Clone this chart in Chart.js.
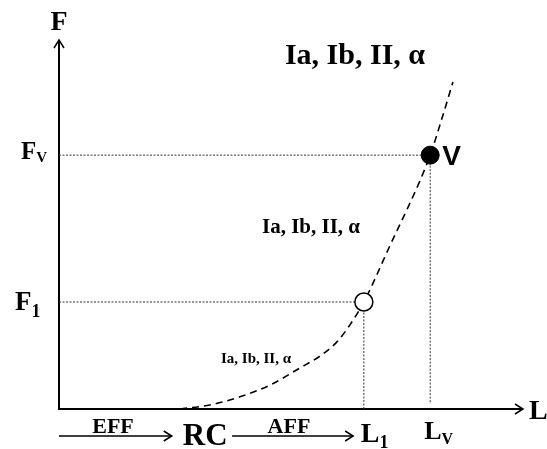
<!DOCTYPE html>
<html>
<head>
<meta charset="utf-8">
<script src="https://cdn.jsdelivr.net/npm/chart.js@4/dist/chart.umd.min.js"></script>
<style>
  body { margin: 0; background: #fff; }
</style>
</head>
<body>
<canvas id="chart" width="547" height="449"></canvas>
<script>
// ---------------------------
//  Datos del gráfico F - L
// ---------------------------
const curveL = [26.1, 32.5, 39.0, 45.5, 51.9, 56.3, 59.9, 62.7, 65.7, 70.9, 80.0, 82.1, 84.9];
const curveF = [0, 1.1, 3.3, 6.5, 11.1, 14.4, 18.2, 22.8, 29.0, 43.1, 68.8, 77.0, 88.6];

const L1 = 65.7, LV = 80.0, RC = 31.5;
const F1 = 29.0, FV = 68.8;

const fibreLabel = 'Ia, Ib, II, α';
const bottomLabels = ['EFF', 'RC', 'AFF'];

const curveData = curveL.map((x, i) => ({ x, y: curveF[i] }));

// líneas de referencia punteadas
const refLine = pts => ({
  type: 'line',
  data: pts,
  borderColor: '#333',
  borderWidth: 1,
  borderDash: [2, 1.5],
  pointRadius: 0,
  fill: false,
  order: 3
});

const serif = 'bold {s}px "Liberation Serif", "Times New Roman", serif';
const font = s => serif.replace('{s}', s);

function arrowHead(ctx, x, y, dir) {
  // dir: 'up' o 'right'
  ctx.beginPath();
  if (dir === 'up') {
    ctx.moveTo(x - 5, y + 8); ctx.lineTo(x, y); ctx.lineTo(x + 5, y + 8);
  } else {
    ctx.moveTo(x - 8, y - 5); ctx.lineTo(x, y); ctx.lineTo(x - 8, y + 5);
  }
  ctx.stroke();
}

function subText(ctx, main, sub, x, base, size, subSize, drop) {
  ctx.textAlign = 'left';
  ctx.textBaseline = 'alphabetic';
  ctx.font = font(size);
  ctx.fillText(main, x, base);
  const w = ctx.measureText(main).width;
  ctx.font = font(subSize);
  ctx.fillText(sub, x + w, base + drop);
}

const axesPlugin = {
  id: 'axes',
  beforeDatasetsDraw(chart) {
    const { ctx, chartArea: a } = chart;
    ctx.save();
    ctx.strokeStyle = '#000';
    ctx.lineWidth = 2;
    ctx.beginPath();
    ctx.moveTo(a.left, a.top);
    ctx.lineTo(a.left, a.bottom);
    ctx.lineTo(a.right, a.bottom);
    ctx.stroke();
    ctx.lineWidth = 1.5;
    arrowHead(ctx, a.left, a.top, 'up');
    arrowHead(ctx, a.right, a.bottom, 'right');
    ctx.restore();
  },
  afterDraw(chart) {
    const { ctx, chartArea: a, scales: { x, y } } = chart;
    ctx.save();
    ctx.fillStyle = '#000';
    ctx.strokeStyle = '#000';

    // títulos de ejes
    ctx.font = font(28);
    ctx.textAlign = 'center';
    ctx.textBaseline = 'alphabetic';
    ctx.fillText('F', a.left, 30);
    ctx.textAlign = 'left';
    ctx.fillText('L', a.right + 6, a.bottom + 10);

    // marcas del eje Y
    subText(ctx, 'F', '1', 15, y.getPixelForValue(F1) + 8, 27, 18, 7);
    subText(ctx, 'F', 'V', 21, y.getPixelForValue(FV) + 4, 25, 15, 3);

    // marcas del eje X
    subText(ctx, 'L', '1', x.getPixelForValue(L1) - 3, 442, 28, 18, 6);
    subText(ctx, 'L', 'V', x.getPixelForValue(LV) - 6, 439, 26, 16, 5);

    // EFF -> RC -> AFF -> L1
    ctx.textAlign = 'center';
    ctx.font = font(22);
    ctx.fillText(bottomLabels[0], 113, 433);
    ctx.fillText(bottomLabels[2], 289, 433);
    ctx.font = font(31);
    ctx.fillText(bottomLabels[1], x.getPixelForValue(RC), 445);

    ctx.lineWidth = 1.5;
    const arrows = [[0, 24.3], [37.3, 63.4]];
    arrows.forEach(([s, e]) => {
      const x0 = x.getPixelForValue(s), x1 = x.getPixelForValue(e);
      ctx.beginPath();
      ctx.moveTo(x0, 436);
      ctx.lineTo(x1, 436);
      ctx.stroke();
      arrowHead(ctx, x1, 436, 'right');
    });

    // etiquetas de fibras
    ctx.font = font(30);
    ctx.fillText(fibreLabel, 355, 64);
    ctx.font = font(21);
    ctx.fillText(fibreLabel, 311, 233);
    ctx.font = font(15);
    ctx.fillText(fibreLabel, 256, 363);

    // punto V
    ctx.textAlign = 'left';
    ctx.font = 'bold 28px "Liberation Sans", Arial, sans-serif';
    ctx.fillText('V', x.getPixelForValue(LV) + 12, y.getPixelForValue(FV) + 10);
    ctx.restore();
  }
};

new Chart(document.getElementById('chart'), {
  type: 'scatter',
  data: {
    datasets: [
      {
        type: 'line',
        data: [{ x: L1, y: F1 }],
        pointRadius: 9,
        pointBackgroundColor: '#fff',
        pointBorderColor: '#000',
        pointBorderWidth: 1.5,
        showLine: false,
        order: 0
      },
      {
        type: 'line',
        data: [{ x: LV, y: FV }],
        pointRadius: 9,
        pointBackgroundColor: '#000',
        pointBorderColor: '#000',
        showLine: false,
        order: 0
      },
      {
        type: 'line',
        data: curveData,
        borderColor: '#000',
        borderWidth: 1.6,
        borderDash: [7, 5],
        pointRadius: 0,
        cubicInterpolationMode: 'monotone',
        fill: false,
        order: 1
      },
      refLine([{ x: 0, y: FV }, { x: LV, y: FV }]),
      refLine([{ x: LV, y: FV }, { x: LV, y: 1.4 }]),
      refLine([{ x: 0, y: F1 }, { x: L1, y: F1 }]),
      refLine([{ x: L1, y: F1 }, { x: L1, y: 0 }])
    ]
  },
  options: {
    responsive: false,
    animation: false,
    layout: { padding: { left: 59, right: 24, top: 40, bottom: 40 } },
    plugins: { legend: { display: false }, tooltip: { enabled: false } },
    scales: {
      x: { type: 'linear', min: 0, max: 100, display: false },
      y: { type: 'linear', min: 0, max: 100, display: false }
    }
  },
  plugins: [axesPlugin]
});
</script>
</body>
</html>
